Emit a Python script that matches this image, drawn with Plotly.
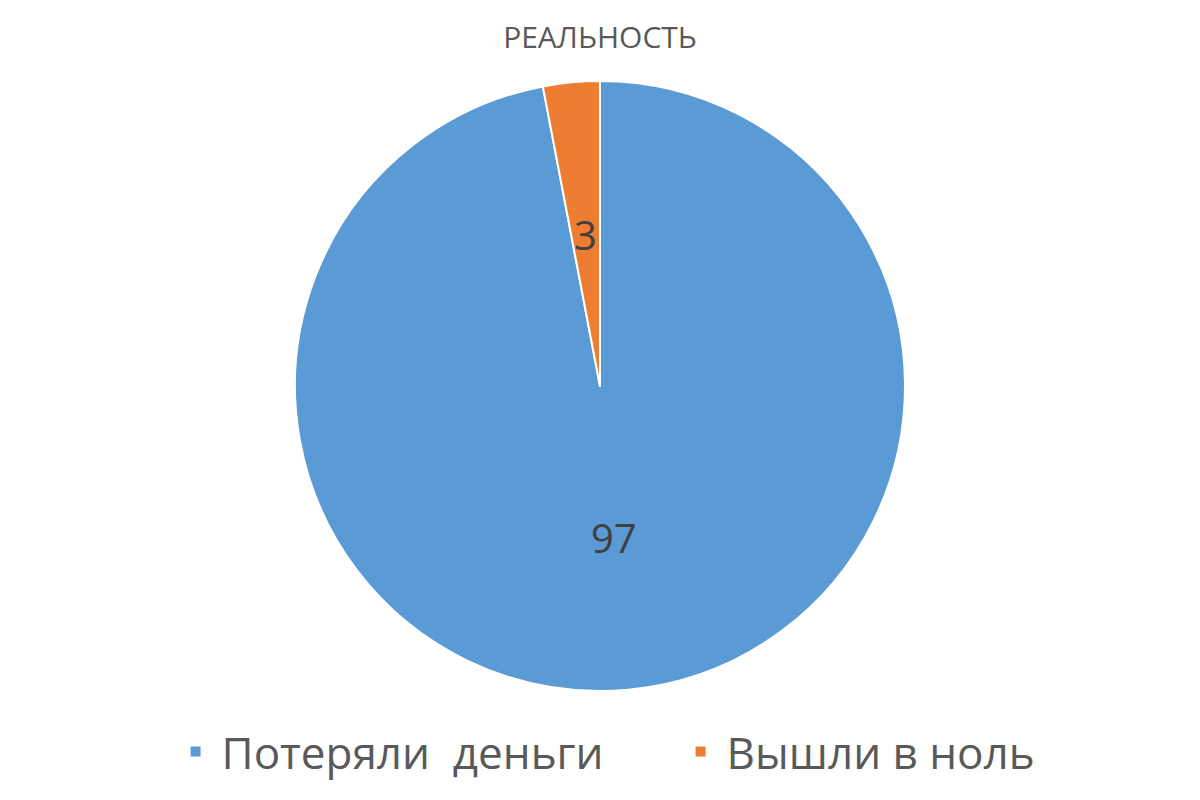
import math
import plotly.graph_objects as go

labels = ["Потеряли  деньги", "Вышли в ноль"]
values = [97, 3]
colors = ["#5B9BD5", "#ED7D31"]

# page has an 8px body margin; compensate so the figure matches the reference placement
W, H = 1200, 800
ml, mr, mt, mb = 0, 16, 73, 117
pw, ph = W - ml - mr, H - mt - mb
radius_px = min(pw, ph) / 2

fig = go.Figure(go.Pie(
    labels=labels,
    values=values,
    sort=False,
    direction="clockwise",
    rotation=0,
    marker=dict(colors=colors, line=dict(color="white", width=2)),
    textinfo="none",
    hoverinfo="label+value",
))

# data labels at half radius, at each slice's mid angle (clockwise from 12 o'clock)
total = sum(values)
cum = 0
for v in values:
    mid = (cum + v / 2) / total * 2 * math.pi
    cum += v
    dx = 0.5 * radius_px * math.sin(mid)
    dy = 0.5 * radius_px * math.cos(mid)
    fig.add_annotation(
        x=0.5 + dx / pw, y=0.5 + dy / ph, xref="paper", yref="paper",
        text=str(v), showarrow=False, xanchor="center", yanchor="middle",
        font=dict(size=40, color="#404040", family="Open Sans"),
    )

fig.update_layout(
    width=W, height=H,
    paper_bgcolor="white", plot_bgcolor="white",
    margin=dict(l=ml, r=mr, t=mt, b=mb, autoexpand=False),
    title=dict(text="РЕАЛЬНОСТЬ", x=0.5, xanchor="center", y=1 - 29 / 800, yanchor="middle",
               xref="paper", yref="container", font=dict(size=30, color="#595959", family="Open Sans")),
    legend=dict(orientation="h", x=0.563, xanchor="center", y=-0.1, yanchor="middle",
                font=dict(size=44, color="#595959", family="Open Sans"),
                entrywidth=448, entrywidthmode="pixels",
                itemwidth=42, traceorder="normal"),
)

fig.write_html("out.html")
